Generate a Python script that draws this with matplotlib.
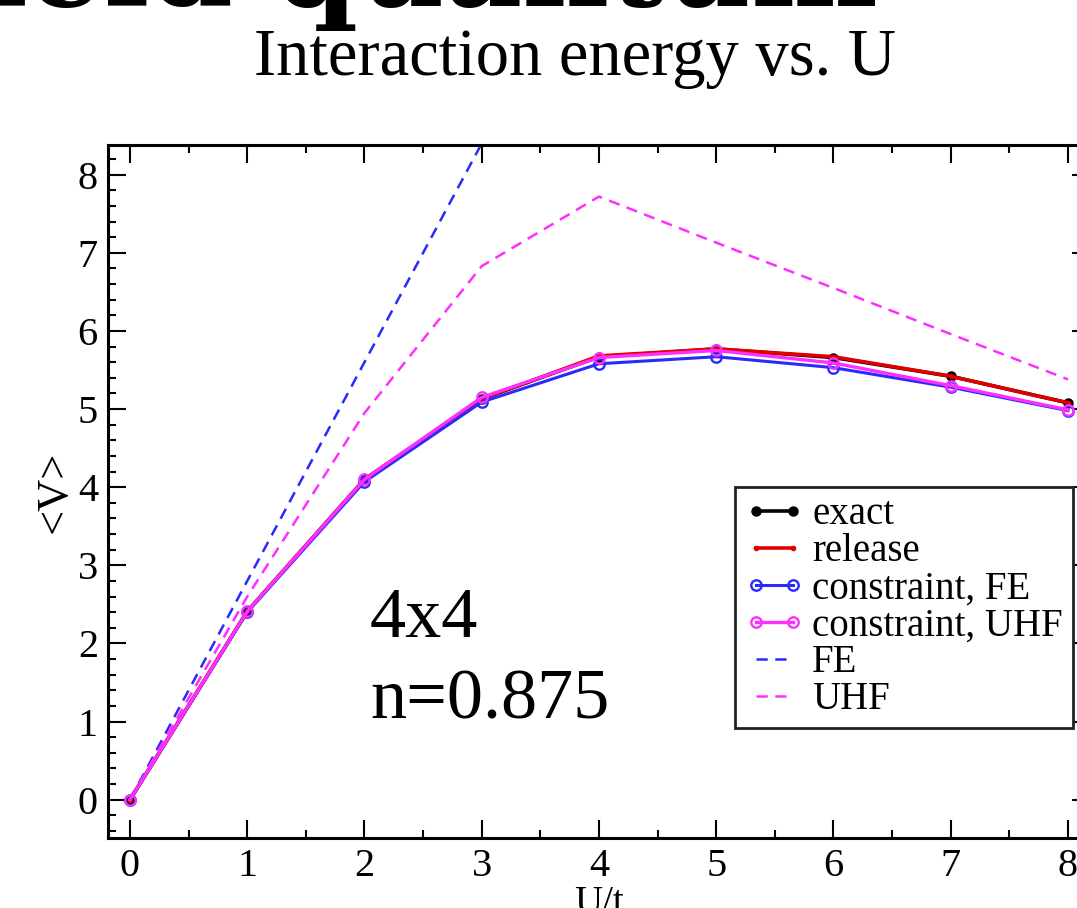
import numpy as np
import matplotlib.pyplot as plt
from matplotlib.ticker import MultipleLocator

U = [0, 1, 2, 3, 4, 5, 6, 7, 8]
exact = [0, 2.41, 4.10, 5.13, 5.67, 5.77, 5.66, 5.42, 5.08]
release = [0, 2.41, 4.10, 5.13, 5.68, 5.77, 5.67, 5.42, 5.08]
constr_fe = [0, 2.40, 4.07, 5.09, 5.58, 5.67, 5.53, 5.28, 4.98]
constr_uhf = [0, 2.41, 4.10, 5.15, 5.66, 5.75, 5.59, 5.30, 4.99]
fe = [0, 2.80, 5.60, 8.40, 11.2, 14.0, 16.8, 19.6, 22.4]
uhf = [0, 2.60, 4.95, 6.83, 7.72, 7.13, 6.55, 5.96, 5.38]

blue = '#2a2aff'
mag = '#ff2eff'
red = '#e00000'
serif = ['Liberation Serif', 'DejaVu Serif']

plt.rcParams['font.family'] = serif

fig = plt.figure(figsize=(10.77, 9.08), dpi=100)
ax = fig.add_axes([0.1, 0.0771, 0.9123, 0.7632])

ax.plot(U, exact, '-o', color='black', lw=2.6, ms=6.5, label='exact')
ax.plot(U, release, '-o', color=red, lw=2.6, ms=3, label='release')
ax.plot(U, constr_fe, '-o', color=blue, lw=2.2, ms=7.5, mfc='none', mew=1.7,
        label='constraint, FE')
ax.plot(U, constr_uhf, '-o', color=mag, lw=2.4, ms=7.5, mfc='none', mew=1.7,
        label='constraint, UHF')
ax.plot(U, fe, '--', color=blue, lw=1.8, dashes=(4.5, 3), label='FE')
ax.plot(U, uhf, '--', color=mag, lw=1.8, dashes=(4.5, 3), label='UHF')

ax.set_xlim(-0.19, 8.19)
ax.set_ylim(-0.49, 8.38)
ax.xaxis.set_major_locator(MultipleLocator(1))
ax.xaxis.set_minor_locator(MultipleLocator(0.5))
ax.yaxis.set_major_locator(MultipleLocator(1))
ax.yaxis.set_minor_locator(MultipleLocator(0.2))
ax.tick_params(which='both', direction='in', top=True, right=True, width=1.5)
ax.tick_params(which='major', length=13, labelsize=29, pad=7)
ax.tick_params(which='minor', length=6)
for s in ax.spines.values():
    s.set_linewidth(2.2)

ax.set_xlabel('U/t', fontsize=28, labelpad=0)
ax.set_ylabel('<V>', fontsize=32)
ax.yaxis.set_label_coords(-0.034, 0.5)

ax.text(0.267, 0.290, '4x4', transform=ax.transAxes, fontsize=52, va='baseline')
ax.text(0.267, 0.173, 'n=0.875', transform=ax.transAxes, fontsize=52, va='baseline')

leg = ax.legend(loc='upper left', bbox_to_anchor=(0.638, 0.507), fontsize=28,
                numpoints=2, handlelength=1.55, handletextpad=0.2,
                labelspacing=0.0, borderpad=0.25, borderaxespad=0,
                frameon=True, fancybox=False, framealpha=1)
leg.get_frame().set_edgecolor('#222222')
leg.get_frame().set_linewidth(2.0)

fig.text(0.534, 0.917, 'Interaction energy vs. U', fontsize=48, ha='center',
         va='baseline')
fig.text(878 / 1077, 1 - 6 / 908, 'field quantum', fontsize=86,
         family='DejaVu Serif', weight='bold', ha='right', va='baseline')

fig.savefig('out.png', dpi=100)
